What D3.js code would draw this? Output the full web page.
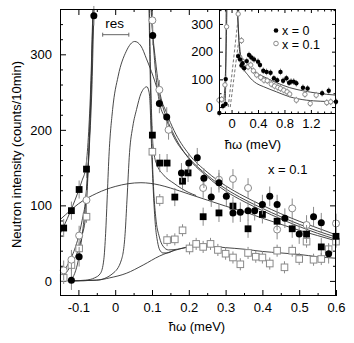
<!DOCTYPE html>
<html><head><meta charset="utf-8">
<script src="https://cdn.jsdelivr.net/npm/d3@7"></script>
<style>
body{margin:0;background:#fff}
svg{display:block}
text{font-family:"Liberation Sans",Arial,Helvetica,sans-serif;fill:#000}
</style>
</head><body>
<svg id="c" width="354" height="343"></svg>
<script>
// ---------------- main panel data (x = 0.1) ----------------
const mainFilledX = [-0.119,-0.098,-0.058,0.102,0.12,0.14,0.18,0.2,0.223,0.241,0.261,0.282,0.302,0.32,0.34,0.361,0.379,0.4,0.42,0.44,0.461,0.5,0.539,0.56,0.58];
const mainFilledY = [1,32,351,325,235,217,143,156,163,136,111,130,112,90,91,93,93,101,112,101,83,62,85,77,36];
const mainOpenX = [-0.14,-0.119,-0.098,-0.078,0.101,0.12,0.145,0.239,0.282,0.32,0.361,0.44,0.481,0.52,0.6];
const mainOpenY = [14,28,60,107,345,253,200,123,134,135,123,68,96,74,76];
const mainSqFilledX = [-0.14,-0.119,-0.098,-0.078,0.101,0.121,0.141,0.162,0.183,0.198,0.239,0.282,0.32,0.361,0.4,0.44,0.481,0.52,0.56,0.6];
const mainSqFilledY = [70,93,121,148,193,156,156,111,132,143,85,90,99,69,88,79,69,62,45,59];
const mainSqOpenX = [-0.14,-0.119,-0.098,-0.078,0.101,0.121,0.141,0.162,0.183,0.202,0.22,0.239,0.259,0.279,0.3,0.32,0.34,0.361,0.382,0.4,0.42,0.44,0.46,0.481,0.5,0.52,0.539,0.56,0.58,0.6];
const mainSqOpenY = [4,21,43,85,171,107,54,55,67,43,49,45,49,41,36,31,22,37,32,31,23,40,18,40,29,52,28,29,42,52];
const mainErr = {filled:13, open:13, sqFilled:12, sqOpen:8};

// fit curves: [energy, intensity]
const fitFilledL = [[-0.13,0],[-0.12,2],[-0.11,10],[-0.1,28],[-0.09,60],[-0.08,105],[-0.07,180],[-0.063,260],[-0.058,351],[-0.054,390]];
const fitOpenL = [[-0.15,2],[-0.14,12],[-0.12,30],[-0.1,58],[-0.09,80],[-0.08,110],[-0.072,170],[-0.065,255],[-0.06,345],[-0.056,390]];
const fitSqOpenL = [[-0.15,0],[-0.14,6],[-0.12,21],[-0.1,42],[-0.09,60],[-0.08,88],[-0.072,165],[-0.066,250],[-0.061,340],[-0.057,390]];
const fitSqFilledL = [[-0.15,62],[-0.14,72],[-0.12,94],[-0.1,119],[-0.09,133],[-0.08,150],[-0.073,190],[-0.066,265],[-0.061,350],[-0.057,390]];
const fitFilledR = [[0.094,390],[0.098,355],[0.102,325],[0.11,275],[0.12,237],[0.14,212],[0.16,190],[0.2,163],[0.25,140],[0.3,122],[0.35,108],[0.4,96],[0.45,85],[0.5,75],[0.55,66],[0.6,58]];
const fitOpenR = [[0.096,390],[0.1,345],[0.11,290],[0.12,253],[0.14,222],[0.16,199],[0.2,168],[0.25,144],[0.3,126],[0.35,112],[0.4,100],[0.45,89],[0.5,79],[0.55,70],[0.6,61]];
const fitSqFilledR = [[0.092,390],[0.095,300],[0.098,235],[0.101,193],[0.106,167],[0.115,152],[0.13,141],[0.16,129],[0.2,117],[0.22,113]];
const fitSqOpenR = [[0.091,390],[0.094,300],[0.097,230],[0.1,175],[0.104,125],[0.11,85],[0.12,58],[0.13,46],[0.145,41],[0.17,42],[0.2,45]];
const curveA = [[-0.15,81],[-0.12,94],[-0.1,102],[-0.05,116],[0,125],[0.07,130],[0.12,127],[0.15,123],[0.2,115],[0.25,107],[0.3,99],[0.36,90],[0.4,83],[0.45,75],[0.5,67],[0.55,60],[0.6,53]];
const curveB = [[-0.12,0],[-0.08,1],[-0.056,4],[-0.04,10],[-0.031,28],[-0.026,63],[-0.022,107],[-0.017,165],[-0.007,227],[0.008,271],[0.03,304],[0.053,317],[0.07,311],[0.085,294],[0.103,271],[0.12,245],[0.14,215],[0.16,193],[0.2,162],[0.25,138],[0.3,119],[0.35,105],[0.4,93],[0.45,82],[0.5,72],[0.55,63],[0.6,55]];
const curveC = [[-0.12,0],[-0.05,1],[-0.006,10],[0.017,28],[0.027,63],[0.032,107],[0.039,170],[0.048,205],[0.058,227],[0.07,248],[0.086,257],[0.092,250],[0.095,232],[0.097,205],[0.1,160],[0.104,115],[0.109,75],[0.115,52],[0.121,41],[0.13,37],[0.14,37],[0.16,41]];
const curveD = [[-0.12,0],[-0.05,1],[-0.015,4],[0.03,10],[0.076,21],[0.121,33],[0.166,41],[0.2,45],[0.25,46],[0.3,44],[0.35,42],[0.4,39],[0.45,37],[0.5,35],[0.55,32],[0.6,30]];
const resBar = [-0.034, 0.037];
const resLevel = 326;

const mainXMajor = [-0.1,0,0.1,0.2,0.3,0.4,0.5,0.6];
const mainXLabels = ["-0.1","0","0.1","0.2","0.3","0.4","0.5","0.6"];
const mainXMinor = [-0.05,0.05,0.15,0.25,0.35,0.45,0.55];
const mainYMajor = [0,100,200,300];
const mainYMinor = [20,40,60,80,120,140,160,180,220,240,260,280,320,340];

// ---------------- inset data ----------------
const insetFilledX = [-0.185,-0.13,-0.09,-0.088,0.1,0.128,0.15,0.166,0.19,0.23,0.264,0.3,0.34,0.4,0.43,0.48,0.53,0.59,0.64,0.69,0.74,0.78,0.83,0.87,0.9,0.94,0.98,1.08,1.15,1.37,1.47,1.58];
const insetFilledY = [-21,4,11,101,184,172,150,158,140,166,188,179,172,164,152,131,127,124,104,97,127,95,104,88,92,92,86,70,67,50,59,19];
const insetOpenX = [-0.19,-0.15,-0.1,-0.075,0.1,0.125,0.15,0.175,0.215,0.25,0.29,0.33,0.38,0.44,0.49,0.54,0.6,0.65,0.7,0.74,0.79,0.84,0.88,0.98,1.11,1.19,1.28,1.44,1.5];
const insetOpenY = [25,28,80,290,336,180,240,164,158,145,152,131,116,107,97,95,83,76,71,67,61,55,47,25,46,13,43,16,19];
const insetErr = 12;
const insetFitFilledL = [[-0.1,0],[-0.092,50],[-0.088,101],[-0.085,200],[-0.082,360]];
const insetFitOpenL = [[-0.12,20],[-0.1,80],[-0.085,180],[-0.075,290],[-0.07,360]];
const insetFitFilledR = [[0.085,360],[0.1,290],[0.125,195],[0.2,165],[0.3,140],[0.38,122],[0.5,108],[0.7,86],[0.88,70],[1.1,58],[1.3,50],[1.58,43]];
const insetFitOpenR = [[0.09,360],[0.1,300],[0.13,200],[0.175,145],[0.25,115],[0.38,85],[0.48,74],[0.68,55],[0.88,37],[1.13,25],[1.35,21],[1.58,19]];
const insetDash1 = [[-0.05,0],[0.09,300]];
const insetDash2 = [[-0.02,0],[0.1,225]];
const insetXMajor = [0,0.4,0.8,1.2];
const insetXLabels = ["0","0.4","0.8","1.2"];
const insetXMinor = [-0.1,0.1,0.2,0.3,0.5,0.6,0.7,0.9,1.0,1.1,1.3,1.4,1.5];
const insetYMajor = [0,100,200,300];
const insetYMinor = [50,150,250,350];
const legendLabels = ["x = 0","x = 0.1"];

// ---------------- drawing ----------------
const svg = d3.select("#c");
const L=60,R=336,T=9,B=296;
const x = d3.scaleLinear().domain([-0.15,0.6]).range([L,R]);
const y = d3.scaleLinear().domain([-20,360]).range([B,T]);
const IL=219, IB=114;
const xi = d3.scaleLinear().domain([-0.19,1.58]).range([IL,R]);
const yi = d3.scaleLinear().domain([-25,354]).range([IB,T]);

const defs = svg.append("defs");
defs.append("clipPath").attr("id","cm").append("rect").attr("x",L).attr("y",T).attr("width",R-L).attr("height",B-T);
defs.append("clipPath").attr("id","ci").append("rect").attr("x",IL).attr("y",T).attr("width",R-IL).attr("height",IB-T);

const LINE="#333", GREY="#8a8a8a";
function mk(sx,sy){return d3.line().x(d=>sx(d[0])).y(d=>sy(d[1])).curve(d3.curveMonotoneX);}

function ticksG(axisFn, scale, vals, size, transform, labels, pad){
  const a = axisFn(scale).tickValues(vals).tickSize(-size).tickPadding(pad||3)
    .tickFormat(labels ? (d,i)=>labels[i] : ()=> "");
  const g = svg.append("g").attr("transform",transform).call(a);
  g.select(".domain").remove();
  g.selectAll("line").attr("stroke","#000").attr("stroke-width",1);
  g.selectAll("text").attr("font-size",13).attr("font-family",'"Liberation Sans",Arial,sans-serif').attr("fill","#000");
  return g;
}

// main axes ticks
ticksG(d3.axisBottom, x, mainXMajor, 6, `translate(0,${B})`, mainXLabels, 7);
ticksG(d3.axisBottom, x, mainXMinor, 3, `translate(0,${B})`);
ticksG(d3.axisTop, x, mainXMajor.filter(v=>x(v)<IL-2), 6, `translate(0,${T})`);
ticksG(d3.axisTop, x, mainXMinor.filter(v=>x(v)<IL-2), 3, `translate(0,${T})`);
ticksG(d3.axisLeft, y, mainYMajor, 6, `translate(${L},0)`, mainYMajor.map(String), 8);
ticksG(d3.axisLeft, y, mainYMinor, 3, `translate(${L},0)`);
ticksG(d3.axisRight, y, mainYMajor.filter(v=>y(v)>IB+2), 6, `translate(${R},0)`);
ticksG(d3.axisRight, y, mainYMinor.filter(v=>y(v)>IB+2), 3, `translate(${R},0)`);

// main fit lines
const gl = svg.append("g").attr("clip-path","url(#cm)").attr("fill","none").attr("stroke",LINE).attr("stroke-width",0.9);
[fitFilledL,fitOpenL,fitSqOpenL,fitSqFilledL,fitFilledR,fitOpenR,fitSqFilledR,fitSqOpenR,curveA,curveB,curveC,curveD]
  .forEach(c=>gl.append("path").datum(c).attr("d",mk(x,y)));

// error bars + markers
function series(g, xs, ys, err, sx, sy, kind, size){
  g.append("g").selectAll("line").data(xs).join("line")
    .attr("x1",(d)=>sx(d)).attr("x2",(d)=>sx(d))
    .attr("y1",(d,i)=>sy(ys[i]-err)).attr("y2",(d,i)=>sy(ys[i]+err))
    .attr("stroke",GREY).attr("stroke-width",1);
  const m = g.append("g");
  xs.forEach((xv,i)=>{
    const cx=sx(xv), cy=sy(ys[i]);
    if(kind==="fc") m.append("circle").attr("cx",cx).attr("cy",cy).attr("r",size).attr("fill","#000");
    if(kind==="oc") m.append("circle").attr("cx",cx).attr("cy",cy).attr("r",size).attr("fill","#fff").attr("stroke",GREY).attr("stroke-width",1);
    if(kind==="fs") m.append("rect").attr("x",cx-size).attr("y",cy-size).attr("width",2*size).attr("height",2*size).attr("fill","#000");
    if(kind==="os") m.append("rect").attr("x",cx-size).attr("y",cy-size).attr("width",2*size).attr("height",2*size).attr("fill","#fff").attr("stroke",GREY).attr("stroke-width",1);
  });
}
const gm = svg.append("g");
series(gm, mainSqOpenX, mainSqOpenY, mainErr.sqOpen, x, y, "os", 3.3);
series(gm, mainOpenX, mainOpenY, mainErr.open, x, y, "oc", 3.5);
series(gm, mainSqFilledX, mainSqFilledY, mainErr.sqFilled, x, y, "fs", 3.4);
series(gm, mainFilledX, mainFilledY, mainErr.filled, x, y, "fc", 3.5);

// resolution bar
svg.append("line").attr("x1",x(resBar[0])).attr("x2",x(resBar[1])).attr("y1",y(resLevel)).attr("y2",y(resLevel)).attr("stroke","#666");
resBar.forEach(v=>svg.append("line").attr("x1",x(v)).attr("x2",x(v)).attr("y1",y(resLevel)-2).attr("y2",y(resLevel)+2).attr("stroke","#666"));
svg.append("text").attr("x",x(resBar[0])+2.5).attr("y",28).attr("font-size",13.5).text("res");
svg.append("text").attr("x",268).attr("y",174).attr("font-size",13).text("x = 0.1");

// main frame
svg.append("rect").attr("x",L+0.5).attr("y",T+0.5).attr("width",R-L-1).attr("height",B-T-1).attr("fill","none").attr("stroke","#000");

// axis titles
svg.append("text").attr("x",(L+R)/2-1).attr("y",331).attr("text-anchor","middle").attr("font-size",13).text("ħω (meV)");
svg.append("text").attr("transform",`translate(21,${(T+B)/2+2}) rotate(-90)`).attr("text-anchor","middle").attr("font-size",13).text("Neutron intensity (counts/10min)");

// ---------------- inset ----------------
svg.append("rect").attr("x",IL).attr("y",T).attr("width",R-IL).attr("height",IB-T).attr("fill","#fff");
ticksG(d3.axisBottom, xi, insetXMajor, 4, `translate(0,${IB})`, insetXLabels, 5);
ticksG(d3.axisBottom, xi, insetXMinor, 2.5, `translate(0,${IB})`);
ticksG(d3.axisTop, xi, insetXMajor, 4, `translate(0,${T})`);
ticksG(d3.axisTop, xi, insetXMinor, 2.5, `translate(0,${T})`);
ticksG(d3.axisLeft, yi, insetYMajor, 4, `translate(${IL},0)`, insetYMajor.map(String), 6);
ticksG(d3.axisLeft, yi, insetYMinor, 2.5, `translate(${IL},0)`);
ticksG(d3.axisRight, yi, insetYMajor, 4, `translate(${R},0)`);
ticksG(d3.axisRight, yi, insetYMinor, 2.5, `translate(${R},0)`);

const gi = svg.append("g").attr("clip-path","url(#ci)").attr("fill","none").attr("stroke",LINE).attr("stroke-width",0.9);
[insetFitFilledL,insetFitOpenL,insetFitFilledR,insetFitOpenR].forEach(c=>gi.append("path").datum(c).attr("d",mk(xi,yi)));
[insetDash1,insetDash2].forEach(c=>gi.append("path").datum(c).attr("d",mk(xi,yi)).attr("stroke","#666").attr("stroke-dasharray","3,2"));

const gim = svg.append("g");
series(gim, insetOpenX, insetOpenY, insetErr, xi, yi, "oc", 2.2);
series(gim, insetFilledX, insetFilledY, insetErr, xi, yi, "fc", 2.2);

svg.append("rect").attr("x",IL+0.5).attr("y",T+0.5).attr("width",R-IL-1).attr("height",IB-T-1).attr("fill","none").attr("stroke","#000");
svg.append("text").attr("x",253).attr("y",149).attr("text-anchor","middle").attr("font-size",13).text("ħω (meV)");

// legend
svg.append("circle").attr("cx",276).attr("cy",30.5).attr("r",2.3).attr("fill","#000");
svg.append("circle").attr("cx",276).attr("cy",43.5).attr("r",2.3).attr("fill","#fff").attr("stroke",GREY);
svg.append("text").attr("x",282).attr("y",35).attr("font-size",12.5).text(legendLabels[0]);
svg.append("text").attr("x",282).attr("y",48.5).attr("font-size",12.5).text(legendLabels[1]);
</script>
</body></html>
